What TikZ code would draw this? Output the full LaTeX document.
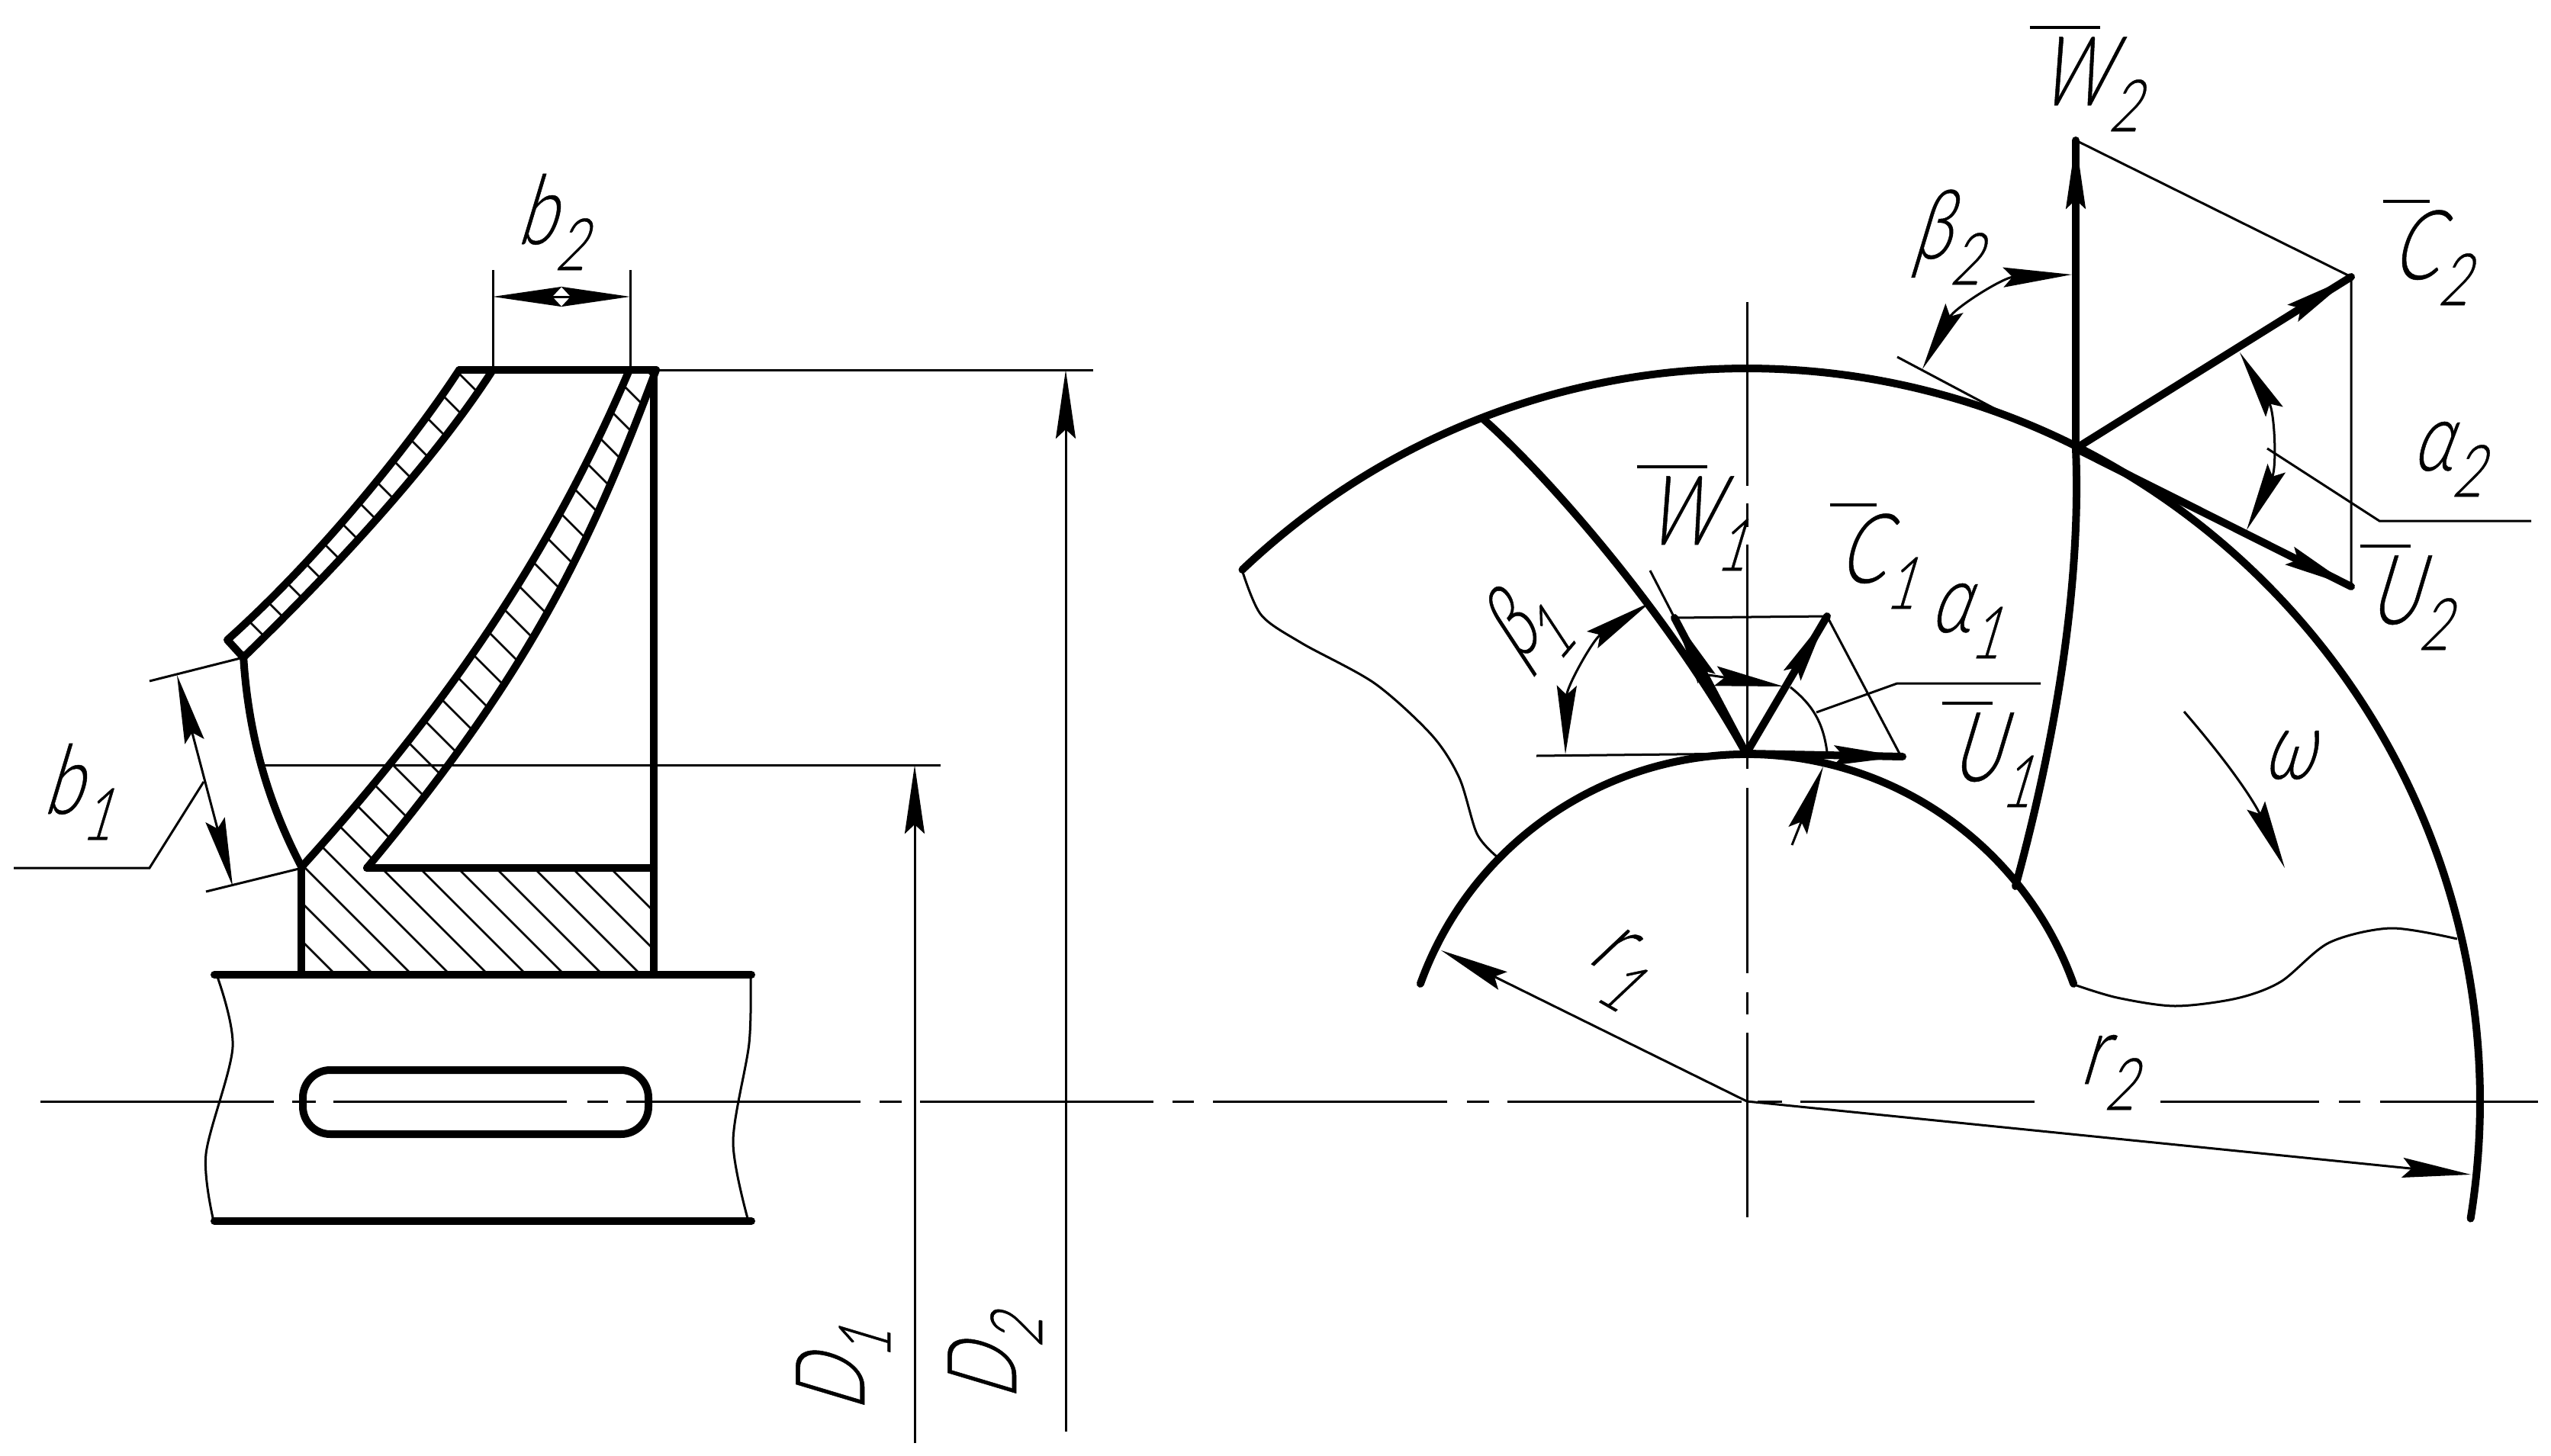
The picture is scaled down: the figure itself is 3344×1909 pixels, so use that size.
\documentclass[tikz,border=0pt]{standalone}
\usepackage{fontspec}
\newfontfamily\gost[FakeSlant=0.3,FakeStretch=0.72,FakeBold=0.4]{Lato Light}
\usetikzlibrary{arrows.meta}
\newcommand{\subf}{\fontsize{27}{27}\selectfont}
\newcommand{\vlab}[2]{\sbox0{#1}\rlap{\kern-.08em\raisebox{.79em}{\rule{\wd0}{.035em}}}\box0\raisebox{-.27em}{\subf #2}}
\newcommand{\slab}[2]{#1\raisebox{-.27em}{\subf #2}}
\tikzstyle{contour}=[line width=0.1cm,line cap=round,line join=round]
\tikzstyle{fine}=[line width=0.03cm]
\tikzstyle{vec}=[contour,postaction={draw,line width=0.03cm,->}]
\tikzstyle{hatching}=[line width=0.025cm]
\tikzstyle{lab}=[inner sep=0,anchor=base west,font=\gost\fontsize{36}{36}\selectfont]
\def\hubfront{(825,-485) .. controls (727,-715) and (597,-914) .. (396,-1136)}
\def\hubback{(481,-1138) .. controls (686,-892) and (769,-729) .. (860,-485)}
\def\shroudout{(602,-485) .. controls (540,-580) and (420,-730) .. (298,-839)}
\def\shroudin{(319,-862) .. controls (450,-735) and (572,-600) .. (646,-485)}
\begin{document}
\begin{tikzpicture}[x=0.01cm,y=0.01cm,>={Stealth[length=0.9cm,width=0.26cm,inset=0.12cm]}]
\useasboundingbox (0,0) rectangle (3344,-1909);

% hatching of the section
\begin{scope}
\clip (825,-485) .. controls (727,-715) and (597,-914) .. (396,-1136) -- (395,-1278) -- (857,-1278) -- (857,-1138) -- (481,-1138)
  .. controls (686,-892) and (769,-729) .. (860,-485) -- cycle
  (602,-485) .. controls (540,-580) and (420,-730) .. (298,-839) -- (319,-862)
  .. controls (450,-735) and (572,-600) .. (646,-485) -- cycle;
\foreach \c in {-938,-888,...,362}
{
  \draw[hatching] (\c+400,-400) -- (\c+1300,-1300);
}
\end{scope}

% wheel section
\draw[contour] (602,-485) -- (860,-485);
\draw[contour] (857,-485) -- (857,-1278);
\draw[contour] (481,-1138) -- (857,-1138);
\draw[contour] (395,-1136) -- (395,-1278);
\draw[contour] \shroudout -- (319,-862);
\draw[contour] \shroudin;
\draw[contour] \hubfront;
\draw[contour] \hubback;
\draw[contour] (319,-859) .. controls (325,-960) and (350,-1050) .. (395,-1136);

% shaft
\draw[contour] (281,-1278) -- (985,-1278);
\draw[contour] (281,-1601) -- (985,-1601);
\draw[fine] plot[smooth] coordinates {(284,-1278) (305,-1373) (270,-1513) (280,-1601)};
\draw[fine] plot[smooth] coordinates {(984,-1278) (982,-1368) (961,-1497) (981,-1601)};
\draw[contour,rounded corners=0.36cm] (397,-1403) rectangle (850,-1487);

% axes
\foreach \a/\b in {53/359,383/414,437/743,770/797,821/1128,1153/1182,1206/1512,1537/1565,1590/1897,1923/1952,1976/2283,2304/2336,2360/2667,2832/3040,3066/3094,3120/3327}
{
  \draw[fine] (\a,-1444) -- (\b,-1444);
}
\foreach \a/\b in {396/637,660/691,714/1008,1033/1276,1301/1330,1354/1596}
{
  \draw[fine] (2290,-\a) -- (2290,-\b);
}

% dimensions of the section
\coordinate (D1end) at (1199,-1892);
\coordinate (D1top) at (1199,-1003);
\coordinate (D2end) at (1397,-1877);
\coordinate (D2top) at (1397,-485);
\draw[fine] (860,-485) -- (1433,-485);
\draw[fine] (344,-1003) -- (1233,-1003);
\draw[fine,->] (D1end) -- (D1top);
\draw[fine,->] (D2end) -- (D2top);
\coordinate (b2left) at (646,-389);
\coordinate (b2mid) at (736,-389);
\coordinate (b2right) at (826,-389);
\draw[fine] (646,-354) -- (646,-485);
\draw[fine] (826,-354) -- (826,-485);
\draw[fine,->] (b2mid) -- (b2left);
\draw[fine,->] (b2mid) -- (b2right);
\coordinate (b1top) at (232,-885);
\coordinate (b1low) at (305,-1162);
\draw[fine] (196,-893) -- (319,-862);
\draw[fine] (270,-1169) -- (396,-1138);
\draw[fine,<->] (b1top) -- (b1low);
\draw[fine] (267,-1025) -- (196,-1138) -- (18,-1138);

% wheel front view
\coordinate (O) at (2290,-1444);
\coordinate (A) at (2721,-588);
\coordinate (B) at (2289,-988);
\draw[contour] (O) ++(133.5:961) arc (133.5:-9.2:961);
\draw[contour] (O) ++(160.2:455) arc (160.2:19.8:455);
\draw[contour] (A) .. controls (2728,-750) and (2700,-950) .. (2642,-1162);
\draw[contour] (1945,-550) .. controls (2035,-630) and (2190,-810) .. (B);
\draw[fine] plot[smooth] coordinates {(1628,-747) (1653,-806) (1706,-843) (1802,-896) (1877,-964) (1913,-1020) (1936,-1093) (1962,-1123)};
\draw[fine] plot[smooth] coordinates {(2719,-1291) (2775,-1308) (2851,-1319) (2932,-1309) (2990,-1287) (3053,-1236) (3134,-1217) (3221,-1231)};
\draw[fine,->] (O) -- (1889,-1246);
\draw[fine,->] (O) -- (3239,-1540);
\draw[fine,->] (2863,-933) to [bend left=8] (2995,-1138);

% inlet triangle
\coordinate (W1) at (2195,-810);
\coordinate (C1) at (2395,-808);
\coordinate (U1) at (2494,-992);
\draw[fine] (W1) -- (C1) -- (2490,-988);
\draw[fine] (2014,-991) -- (B);
\draw[vec] (B) -- (W1);
\draw[vec] (B) -- (C1);
\draw[vec] (B) -- (U1);
\draw[fine] (2163,-748) -- (W1);
\draw[fine,<->] (2052,-989) to [bend left=28] (2163,-790);
\draw[fine,->] (2240,-885) -- (2338,-900);
\draw[fine] (2347,-901) to [bend left=22] (2395,-986);
\draw[fine,->] (2349,-1108) -- (2390,-1005);
\draw[fine] (2381,-934) -- (2487,-896) -- (2675,-896);

% outlet triangle
\coordinate (W2) at (2721,-184);
\coordinate (C2) at (3082,-363);
\coordinate (U2) at (3082,-769);
\draw[fine] (W2) -- (C2) -- (U2);
\draw[vec] (A) -- (W2);
\draw[vec] (A) -- (C2);
\draw[vec] (A) -- (U2);
\draw[fine] (2487,-468) -- (2617,-537);
\draw[fine,<->] (2520,-484) to [bend left=30] (2716,-360);
\draw[fine,<->] (2936,-462) to [bend left=28] (2945,-695);
\draw[fine] (2972,-588) -- (3119,-683) -- (3318,-683);

% labels
\node[lab] (b2lab) at (676,-320) {\slab{b}{2}};
\node[lab] (b1lab) at (55,-1067) {\slab{b}{1}};
\node[lab,rotate=90] (D1lab) at (1133,-1852) {\slab{D}{1}};
\node[lab,rotate=90] (D2lab) at (1332,-1837) {\slab{D}{2}};
\node[lab] (W1lab) at (2155,-714) {\vlab{W}{1}};
\node[lab] (C1lab) at (2408,-764) {\vlab{C}{1}};
\node[lab] (U1lab) at (2555,-1024) {\vlab{U}{1}};
\node[lab] (W2lab) at (2670,-138) {\vlab{W}{2}};
\node[lab] (C2lab) at (3133,-366) {\vlab{C}{2}};
\node[lab] (U2lab) at (3103,-818) {\vlab{U}{2}};
\node[lab] (a1lab) at (2528,-829) {\slab{α}{1}};
\node[lab] (a2lab) at (3160,-617) {\slab{α}{2}};
\node[lab] (b2ang) at (2505,-339) {\slab{β}{2}};
\node[lab,anchor=center,rotate=50] (b1ang) at (1996,-826) {β\kern-.12em\raisebox{-.3em}{\subf 1}};
\node[lab,anchor=center,rotate=-30] (r1lab) at (2117,-1267) {r\raisebox{-.3em}{\subf 1}};
\node[lab] (r2lab) at (2725,-1421) {\slab{r}{2}};
\node[lab] (omega) at (2965,-1021) {ω};
\end{tikzpicture}
\end{document}
